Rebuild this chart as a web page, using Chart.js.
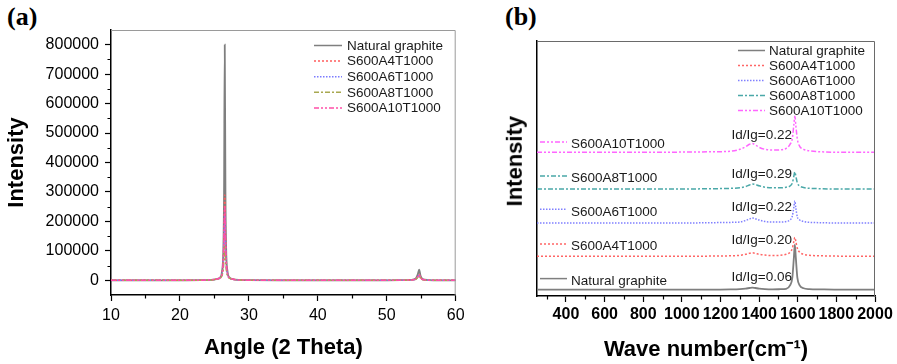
<!DOCTYPE html>
<html><head><meta charset="utf-8">
<script src="https://cdn.jsdelivr.net/npm/chart.js@4.4.1/dist/chart.umd.min.js"></script>
<style>
html,body{margin:0;padding:0;background:#fff;width:897px;height:364px;overflow:hidden;}
#ca{position:absolute;left:0;top:0;}
#cb{position:absolute;left:460px;top:0;}
.plabel{position:absolute;font-family:"Liberation Serif";font-weight:bold;font-size:26px;line-height:26px;color:#000;}
#ytb{position:absolute;left:439.5px;top:147.8px;width:150px;height:26.4px;font-family:"Liberation Sans";font-weight:bold;font-size:22px;line-height:26.4px;text-align:center;color:#000;transform:rotate(-90deg);}
</style></head>
<body>
<div class="plabel" style="left:7px;top:4px;">(a)</div>
<div class="plabel" style="left:505px;top:4px;">(b)</div>
<canvas id="ca" width="470" height="364"></canvas>
<canvas id="cb" width="437" height="364"></canvas>
<div id="ytb">Intensity</div>
<script>
// ---------- names ----------
const seriesNames = ['Natural graphite','S600A4T1000','S600A6T1000','S600A8T1000','S600A10T1000'];

// ---------- (a) XRD ----------
const xrdAngle   = [10,15,20,23,24.5,25.3,25.8,26.1,26.3,26.4,26.5,26.6,26.7,26.9,27.2,27.7,28.5,30,35,40,45,50,52,53.5,54.2,54.5,54.7,54.9,55.2,56,58,60];
const xrdNatural = [0,0,0,500,1500,4000,9000,30000,110000,300000,800000,300000,110000,30000,9000,4000,1500,500,0,0,0,0,200,1500,6000,20000,36000,15000,4000,800,0,0];
const xrdA4      = [0,0,0,400,1500,4000,8000,22000,75000,170000,290000,170000,75000,22000,8000,3500,1200,400,0,0,0,0,200,1200,4000,12000,18000,9000,2500,500,0,0];
const xrdA6      = [0,0,0,400,1400,3800,7500,20000,60000,130000,220000,130000,60000,20000,7500,3200,1100,400,0,0,0,0,200,1100,3500,11000,17000,8000,2200,500,0,0];
const xrdA8      = [0,0,0,300,1200,3500,7000,16000,40000,75000,120000,75000,40000,16000,7000,3000,1000,300,0,0,0,0,200,1000,3200,10000,16000,7500,2000,400,0,0];
const xrdA10     = [0,0,0,400,1500,4000,8000,21000,70000,150000,250000,150000,70000,21000,8000,3400,1200,400,0,0,0,0,200,1200,4000,12000,19000,9000,2500,500,0,0];
const xrdXTicks  = [10,20,30,40,50,60];
const xrdXMinor  = [15,25,35,45,55];
const xrdYTicks  = [0,100000,200000,300000,400000,500000,600000,700000,800000];
const xrdYMinor  = [50000,150000,250000,350000,450000,550000,650000,750000];

// ---------- (b) Raman (arbitrary units, stacked) ----------
const ramanShift   = [250,400,600,800,1000,1150,1250,1300,1330,1350,1365,1380,1400,1430,1470,1510,1540,1560,1572,1580,1585,1590,1598,1610,1630,1660,1720,1800,1900,2000];
const ramanNatural = [0,0,0,0,0,0,0.2,0.5,1,1.6,2,1.6,1,0.5,0.3,0.4,0.8,4.2,12,32,45,32,12,4.2,1.4,0.5,0.2,0,0,0];
const ramanA4      = [0,0,0,0,0,0.2,0.5,1,2,3,3.5,3,2,1.2,0.8,1,2,4,8,15,19,15,8,4,2,1,0.5,0.2,0,0];
const ramanA6      = [0,0,0,0,0,0.3,0.6,1,2.5,4,5,4.3,3,1.5,1,1,1.5,3,7,16,22,15,6,3,1.5,0.7,0.3,0,0,0];
const ramanA8      = [0,0,0,0,0,0.3,0.6,1.2,2.5,4,5,4.5,3.2,1.8,1.2,1.2,1.8,3,6,13,17,13,6,3,1.5,0.7,0.3,0,0,0];
const ramanA10     = [0,0,0,0,0.2,0.5,1,3,5.5,8,8.7,7.5,5,3,2.3,2.5,4,8,14,28,36,27,13,6,3,1.5,0.5,0,0,0];
const ramanOffsets = [6.4,39.7,73.0,107.0,143.7];
const idIgLabels   = ['Id/Ig=0.06','Id/Ig=0.20','Id/Ig=0.22','Id/Ig=0.29','Id/Ig=0.22'];
const ramanXTicks  = [400,600,800,1000,1200,1400,1600,1800,2000];
const ramanXMinor  = [300,500,700,900,1100,1300,1500,1700,1900];

// ---------- styles ----------
const colorsA = ['#7f7f7f','#ff5c5c','#7b7bff','#a8a850','#ff4fa8'];
const colorsB = ['#7f7f7f','#ff6666','#8080ff','#4aa8a8','#ff66ff'];
const dashes  = [[],[2,2],[1.5,1.5],[5,2,2,2],[5,2,2,2,2,2]];
const FONT = 'Liberation Sans';

function pts(xs, ys, off){ return xs.map((x,i)=>({x:x, y:ys[i]+(off||0)})); }

const decor = {
  id:'decor',
  afterDraw(chart, args, o){
    const ctx = chart.ctx, ca = chart.chartArea, sx = chart.scales.x, sy = chart.scales.y;
    ctx.save();
    ctx.strokeStyle = o.frameColor; ctx.lineWidth = 1; ctx.setLineDash([]);
    ctx.beginPath();
    ctx.moveTo(ca.left, ca.top+0.5); ctx.lineTo(ca.right-0.5, ca.top+0.5); ctx.lineTo(ca.right-0.5, ca.bottom);
    ctx.stroke();
    ctx.strokeStyle = '#000'; ctx.lineWidth = 1.2;
    ctx.beginPath();
    (o.xMinor||[]).forEach(v=>{ const p = Math.round(sx.getPixelForValue(v))+0.5; ctx.moveTo(p, ca.bottom); ctx.lineTo(p, ca.bottom+3.5); });
    (o.yMinor||[]).forEach(v=>{ const p = Math.round(sy.getPixelForValue(v))+0.5; ctx.moveTo(ca.left, p); ctx.lineTo(ca.left-3.5, p); });
    ctx.stroke();
    const L = o.legend;
    ctx.font = '13.5px "'+FONT+'"'; ctx.textBaseline = 'middle'; ctx.textAlign = 'left';
    chart.data.datasets.forEach((ds,i)=>{
      const y = L.y0 + i*L.dy;
      ctx.strokeStyle = ds.borderColor; ctx.lineWidth = 1.5; ctx.setLineDash(ds.borderDash||[]);
      ctx.beginPath(); ctx.moveTo(L.x1, y); ctx.lineTo(L.x2, y); ctx.stroke();
      ctx.setLineDash([]); ctx.fillStyle = '#1a1a1a'; ctx.fillText(ds.label, L.tx, y+0.5);
    });
    if (o.side){
      const S = o.side;
      chart.data.datasets.forEach((ds,i)=>{
        const base = sy.getPixelForValue(ramanOffsets[i]);
        const ly = base - S.lineRise[i];
        ctx.strokeStyle = ds.borderColor; ctx.lineWidth = 1.5; ctx.setLineDash(ds.borderDash||[]);
        ctx.beginPath(); ctx.moveTo(S.x1, ly); ctx.lineTo(S.x2, ly); ctx.stroke();
        ctx.setLineDash([]); ctx.fillStyle = '#1a1a1a'; ctx.textAlign = 'left';
        ctx.fillText(ds.label, S.tx, ly+2.5);
        ctx.textAlign = 'right';
        ctx.fillText(idIgLabels[i], sx.getPixelForValue(S.idX), base - S.idRise[i]);
      });
    }
    ctx.restore();
  }
};

const rawA = [xrdNatural, xrdA4, xrdA6, xrdA8, xrdA10];
new Chart(document.getElementById('ca'), {
  type:'line',
  data:{ datasets: rawA.map((d,i)=>({
    label: seriesNames[i], data: pts(xrdAngle, d), borderColor: colorsA[i], borderDash: dashes[i],
    borderWidth: i===0?1.8:1.5, pointRadius:0, cubicInterpolationMode:'monotone', fill:false,
    order: i===0 ? 10 : 5-i
  })) },
  options:{
    responsive:false, animation:false, devicePixelRatio:1,
    layout:{ padding:{ top:30, right:11, left:0, bottom:0 } },
    plugins:{ legend:{display:false}, tooltip:{enabled:false},
      decor:{ frameColor:'#9a9a9a', xMinor: xrdXMinor, yMinor: xrdYMinor,
        legend:{ x1:314, x2:342, tx:347, y0:45.5, dy:15.6 } } },
    scales:{
      x:{ type:'linear', min:10, max:60,
        afterFit:s=>{ s.height = 69; },
        afterBuildTicks:s=>{ s.ticks = xrdXTicks.map(v=>({value:v})); },
        ticks:{ font:{family:FONT,size:16}, color:'#000', padding:5.4, maxRotation:0, autoSkip:false, callback:v=>String(v) },
        grid:{ drawOnChartArea:false, drawTicks:true, tickLength:6, tickColor:'#000', tickWidth:1.2 },
        border:{ display:true, color:'#000', width:1.5 },
        title:{ display:true, text:'Angle (2 Theta)', color:'#000', font:{family:FONT,size:22,weight:'bold'}, padding:{top:0,bottom:2.8} } },
      y:{ type:'linear', min:-50000, max:850000,
        afterFit:s=>{ s.width = 111; },
        afterBuildTicks:s=>{ s.ticks = xrdYTicks.map(v=>({value:v})); },
        ticks:{ font:{family:FONT,size:16}, color:'#000', padding:6, autoSkip:false, callback:v=>String(v) },
        grid:{ drawOnChartArea:false, drawTicks:true, tickLength:6, tickColor:'#000', tickWidth:1.2 },
        border:{ display:true, color:'#000', width:1.5 },
        title:{ display:true, text:'Intensity', color:'#000', font:{family:FONT,size:22,weight:'bold'}, padding:{top:4,bottom:0} } }
    }
  },
  plugins:[decor]
});

const rawB = [ramanNatural, ramanA4, ramanA6, ramanA8, ramanA10];
new Chart(document.getElementById('cb'), {
  type:'line',
  data:{ datasets: rawB.map((d,i)=>({
    label: seriesNames[i], data: pts(ramanShift, d, ramanOffsets[i]), borderColor: colorsB[i], borderDash: dashes[i],
    borderWidth: i===0?1.8:1.5, pointRadius:0, cubicInterpolationMode:'monotone', fill:false,
    order: i===0 ? 10 : 5-i
  })) },
  options:{
    responsive:false, animation:false, devicePixelRatio:1,
    layout:{ padding:{ top:41, right:22, left:0, bottom:0 } },
    plugins:{ legend:{display:false}, tooltip:{enabled:false},
      decor:{ frameColor:'#6a6a6a', xMinor: ramanXMinor,
        legend:{ x1:278, x2:305, tx:309, y0:50.5, dy:15 },
        side:{ x1:80, x2:107, tx:111, lineRise:[11,12.3,13.7,13,10.3], idX:1570, idRise:[12,16,15.4,14.7,17] } } },
    scales:{
      x:{ type:'linear', min:250, max:2000,
        afterFit:s=>{ s.height = 68; },
        afterBuildTicks:s=>{ s.ticks = ramanXTicks.map(v=>({value:v})); },
        ticks:{ font:{family:FONT,size:16,weight:'bold'}, color:'#000', padding:3.4, maxRotation:0, autoSkip:false, callback:v=>String(v) },
        grid:{ drawOnChartArea:false, drawTicks:true, tickLength:6, tickColor:'#000', tickWidth:1.2 },
        border:{ display:true, color:'#000', width:1.5 },
        title:{ display:true, text:'Wave number(cm\u207B\u00B9)', color:'#000', font:{family:FONT,size:22,weight:'bold'}, padding:{top:0,bottom:1} } },
      y:{ type:'linear', min:0, max:255,
        afterFit:s=>{ s.width = 77; },
        ticks:{ display:false },
        grid:{ display:false },
        border:{ display:true, color:'#000', width:1.5 } }
    }
  },
  plugins:[decor]
});
</script>
</body></html>
